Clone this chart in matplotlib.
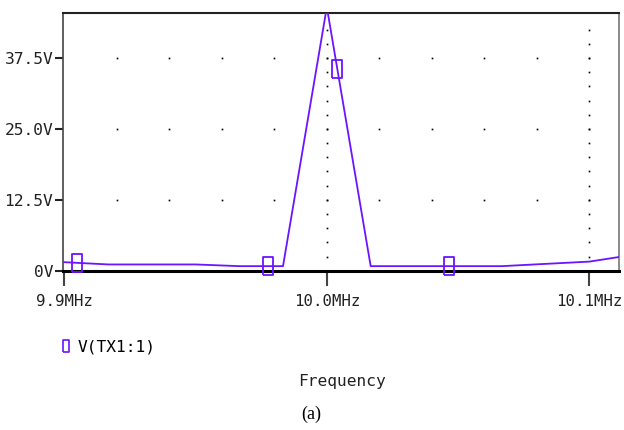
import numpy as np
import matplotlib.pyplot as plt
from matplotlib.lines import Line2D

# frequency sweep (MHz) and voltage at V(TX1:1)
freq_mhz = [9.9, 9.9167, 9.9333, 9.95, 9.9667, 9.9833, 10.0, 10.0167,
            10.0333, 10.05, 10.0667, 10.0833, 10.1, 10.1167]
volts = [1.5, 1.1, 1.1, 1.1, 0.8, 0.8, 46.5, 0.8,
         0.8, 0.8, 0.8, 1.2, 1.6, 2.8]
marker_freq = [9.9047, 9.9776, 10.004, 10.0466]

y_ticks = [0, 12.5, 25.0, 37.5]
y_labels = ['0V', '12.5V', '25.0V', '37.5V']
x_ticks = [9.9, 10.0, 10.1]
x_labels = ['9.9MHz', '10.0MHz', '10.1MHz']

color = '#6a14ff'
mono = 'DejaVu Sans Mono'
fsize = 11.7
rect = [(-0.5, -1), (0.5, -1), (0.5, 1), (-0.5, 1), (-0.5, -1)]

fig = plt.figure(figsize=(6.24, 4.30), dpi=100)
ax = fig.add_axes([0.101, 0.3705, 0.891, 0.5986])

xlim = (9.8995, 10.1113)
ylim = (0, 45.4)

# dotted grid as single-pixel dots
for yv in y_ticks[1:]:
    gx = np.arange(9.92, 10.1001, 0.02)
    ax.plot(gx, np.full_like(gx, yv), linestyle='none', marker='s',
            markersize=1.2, markeredgewidth=0, color='black', zorder=1)
for xv in x_ticks[1:]:
    gy = np.arange(2.5, 43.0, 2.5)
    ax.plot(np.full_like(gy, xv), gy, linestyle='none', marker='s',
            markersize=1.2, markeredgewidth=0, color='black', zorder=1)

ax.plot(freq_mhz, volts, color=color, linewidth=1.3, zorder=3)
my = np.interp(marker_freq, freq_mhz, volts)
ax.plot(marker_freq, my, linestyle='none', marker=rect, markersize=13,
        markerfacecolor='none', markeredgecolor=color, markeredgewidth=1.3,
        zorder=4, clip_on=False)

ax.set_xlim(*xlim)
ax.set_ylim(*ylim)
ax.set_xticks(x_ticks)
ax.set_xticklabels(x_labels)
ax.set_yticks(y_ticks)
ax.set_yticklabels(y_labels)
ax.tick_params(axis='x', direction='out', length=11, width=1.5,
               color='#444444', pad=6, labelsize=11.3, labelcolor='#222222')
ax.tick_params(axis='y', direction='out', length=6, width=1.5,
               color='#222222', pad=1, labelsize=fsize, labelcolor='#222222')
for lab in ax.get_xticklabels() + ax.get_yticklabels():
    lab.set_family(mono)

ax.spines['bottom'].set_linewidth(2.2)
ax.spines['bottom'].set_color('black')
ax.spines['top'].set_linewidth(1.5)
ax.spines['top'].set_color('#222222')
ax.spines['left'].set_linewidth(1.2)
ax.spines['left'].set_color('#444444')
ax.spines['right'].set_linewidth(1.2)
ax.spines['right'].set_color('#777777')

handle = Line2D([], [], linestyle='none', marker=rect, markersize=8,
                markerfacecolor='none', markeredgecolor=color, markeredgewidth=1.2)
fig.legend(handles=[handle], labels=['V(TX1:1)'], loc='center left',
           bbox_to_anchor=(0.074, 0.193), frameon=False, handlelength=0.7,
           handletextpad=0.35, prop={'family': mono, 'size': fsize})

fig.text(0.548, 0.112, 'Frequency', ha='center', va='center',
         family=mono, fontsize=fsize, color='#222222')
fig.text(0.498, 0.037, '(a)', ha='center', va='center',
         family='Liberation Serif', fontsize=13, color='black')

fig.savefig('out.png', dpi=100)
